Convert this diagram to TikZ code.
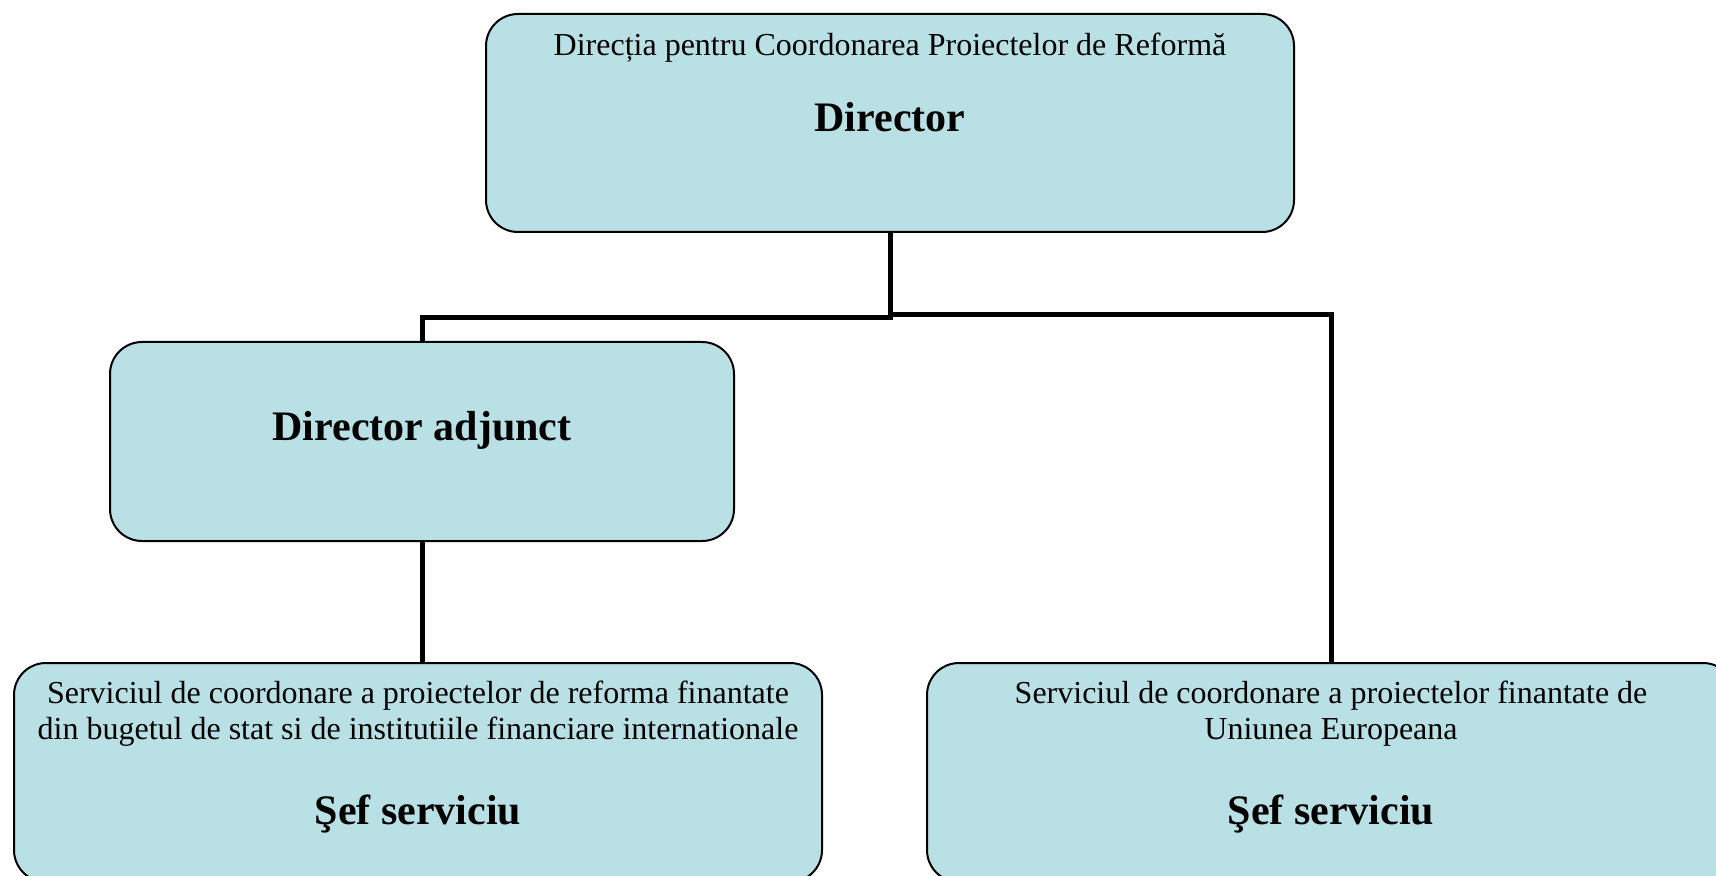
\documentclass[tikz,border=0pt]{standalone}
\usepackage{fontspec}
\setmainfont{Liberation Serif}
\definecolor{boxfill}{RGB}{185,224,228}
\begin{document}
\begin{tikzpicture}[x=0.5pt,y=-0.5pt,
  box/.style={draw=black, line width=1pt, fill=boxfill, rounded corners=16pt, inner sep=0pt},
  conn/.style={line width=2.5pt, draw=black},
  small/.style={font=\fontsize{16}{18}\selectfont, align=center, inner sep=0pt, anchor=base},
  big/.style={font=\fontsize{21}{25}\selectfont\bfseries, inner sep=0pt, anchor=base}]
\useasboundingbox (0,0) rectangle (1716,876);
\clip (0,0) rectangle (1716,876);
% boxes
\node[box, minimum width=404pt, minimum height=109pt] (dir) at (890,123) {};
\node[box, minimum width=312pt, minimum height=99.5pt] (adj) at (422,441.5) {};
\node[box, minimum width=404pt, minimum height=109.5pt] (sl) at (418,772.5) {};
\node[box, minimum width=404pt, minimum height=109.5pt] (sr) at (1331,772.5) {};
% texts
\node[small] (dirt) at (890,56) {Direcția pentru Coordonarea Proiectelor de Reformă};
\node[big] (dirn) at (890,132) {Director};
\node[big] (adjn) at (422,440) {Director adjunct};
\node[small] (slt1) at (418,703) {Serviciul de coordonare a proiectelor de reforma finantate};
\node[small] (slt2) at (418,739) {din bugetul de stat si de institutiile financiare internationale};
\node[big] (sln) at (418,824) {Şef serviciu};
\node[small] (srt1) at (1331,703) {Serviciul de coordonare a proiectelor finantate de};
\node[small] (srt2) at (1331,739) {Uniunea Europeana};
\node[big] (srn) at (1331,824) {Şef serviciu};
% connectors
\coordinate (jl) at (890,318);
\coordinate (jr) at (890,315);
\draw[conn] (dir.south) -- (jl) -| (adj.north);
\draw[conn] (jr) -| (sr.north);
\draw[conn] (adj.south) -- (sl.north -| adj.south);
\end{tikzpicture}
\end{document}
